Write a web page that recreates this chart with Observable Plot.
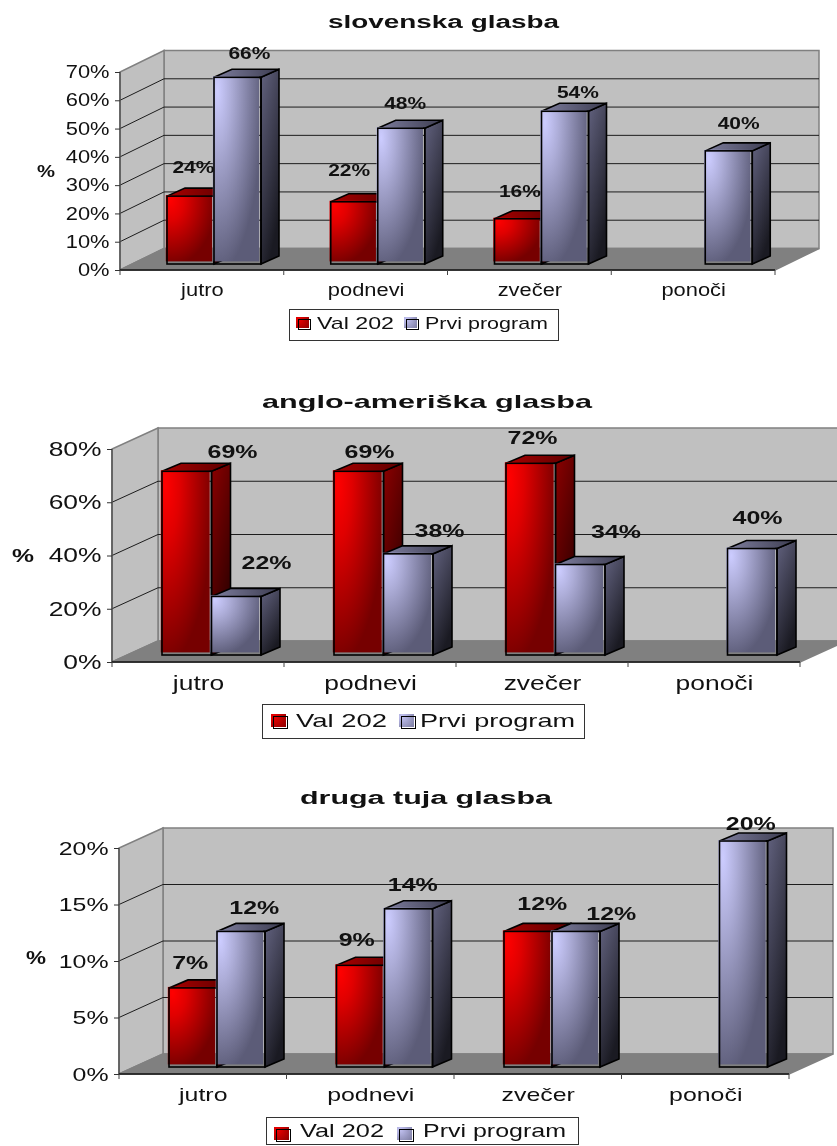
<!DOCTYPE html>
<html><head><meta charset="utf-8">
<script src="https://cdn.jsdelivr.net/npm/d3@7"></script>
<script src="https://cdn.jsdelivr.net/npm/@observablehq/plot@0.6"></script>
<style>
html,body{margin:0;padding:0;background:#fff;width:837px;height:1146px;overflow:hidden;font-family:"Liberation Sans",Arial,sans-serif;color:#111}
body{filter:blur(0.3px)}
.abs{position:absolute;white-space:nowrap;line-height:1}
svg.plot{position:absolute;left:0;overflow:visible}
</style></head><body>
<svg width="0" height="0" style="position:absolute">
<defs>
<radialGradient id="redF" cx="0.1" cy="0.08" r="0.98"><stop offset="0" stop-color="#ff0000"/><stop offset="0.3" stop-color="#e00000"/><stop offset="1" stop-color="#760000"/></radialGradient>
<radialGradient id="bluF" cx="0.1" cy="0.08" r="0.98"><stop offset="0" stop-color="#ccccff"/><stop offset="0.3" stop-color="#adadd8"/><stop offset="1" stop-color="#5c5c78"/></radialGradient>
<linearGradient id="redS" x1="0" y1="0" x2="0.45" y2="1"><stop offset="0" stop-color="#8c0000"/><stop offset="1" stop-color="#2c0000"/></linearGradient>
<linearGradient id="bluS" x1="0" y1="0" x2="0.45" y2="1"><stop offset="0" stop-color="#62627f"/><stop offset="1" stop-color="#1a1a22"/></linearGradient>
<linearGradient id="redT" x1="0" y1="0" x2="1" y2="0"><stop offset="0" stop-color="#a80000"/><stop offset="1" stop-color="#5c0000"/></linearGradient>
<linearGradient id="bluT" x1="0" y1="0" x2="1" y2="0"><stop offset="0" stop-color="#7e7e9e"/><stop offset="1" stop-color="#3c3c50"/></linearGradient>
</defs></svg>
<script>
const categories = ["jutro", "podnevi", "zvečer", "ponoči"];
const seriesNames = ["Val 202", "Prvi program"];

const titles = ["slovenska glasba", "anglo-ameriška glasba", "druga tuja glasba"];

const sloVal = [24, 22, 16, null];
const sloPrvi = [66, 48, 54, 40];
const sloTicks = [0, 10, 20, 30, 40, 50, 60, 70];

const angVal = [69, 69, 72, null];
const angPrvi = [22, 38, 34, 40];
const angTicks = [0, 20, 40, 60, 80];

const druVal = [7, 9, 12, null];
const druPrvi = [12, 14, 12, 20];
const druTicks = [0, 5, 10, 15, 20];

const font = '"Liberation Sans",Arial,sans-serif';

const charts = [
  {title: titles[0], val: sloVal, prvi: sloPrvi, ticks: sloTicks,
   x0: 120, x1: 775, y0: 270, yt: 72, top: 40, bottom: 308,
   depth: [44, -21.5], start: 47, bar: 47, lift: 6, side: [18, -8],
   tickFont: 17.5, tickScale: 1.25, labFont: 16.5, labScale: 1.27, catPad: 13, tickPad: 6,
   nudge: [[-9, -35], [-17, -38], [-10, -34], null], nudgeP: [[47, -30], [39, -31], [48, -25], [45, -34]],
   titleBox: [443.5, 23, 231, 17.5], pct: [46, 171, 18, 17],
   legend: {box: [289, 309, 270, 32], fs: 17, t1: [317, 323, 77], s1: [296, 317], s2: [404, 317], t2: [425, 323, 123], sw: 15}},
  {title: titles[1], val: angVal, prvi: angPrvi, ticks: angTicks,
   x0: 112, x1: 800, y0: 662, yt: 449, top: 415, bottom: 702,
   depth: [46, -21], start: 50, bar: 49.5, lift: 7, side: [19, -8],
   tickFont: 20, tickScale: 1.32, labFont: 18.5, labScale: 1.35, catPad: 13, tickPad: 6,
   nudge: [[34, -27], [-1, -27], [-10, -33], null], nudgeP: [[68, -41], [69, -30], [73.5, -40], [43, -38]],
   titleBox: [427, 401, 330, 19], pct: [23, 555, 22, 19],
   legend: {box: [262, 704, 323, 35], fs: 19, t1: [296, 720, 91], s1: [271, 714], s2: [399, 714], t2: [420, 720, 155], sw: 17}},
  {title: titles[2], val: druVal, prvi: druPrvi, ticks: druTicks,
   x0: 119, x1: 789, y0: 1074, yt: 848, top: 815, bottom: 1115,
   depth: [44, -20], start: 50, bar: 48, lift: 7, side: [19, -8],
   tickFont: 19, tickScale: 1.31, labFont: 18.5, labScale: 1.35, catPad: 13, tickPad: 6,
   nudge: [[-13, -32], [-14, -33], [4, -35], null], nudgeP: [[51, -31], [42, -31], [73, -25], [45, -24]],
   titleBox: [426, 798, 252, 18], pct: [36, 958, 20, 18],
   legend: {box: [266, 1117, 313, 28], fs: 18.5, t1: [300, 1131, 84], s1: [274, 1127], s2: [397, 1127], t2: [423, 1131, 143], sw: 17}}
];

function frame3d(c) {
  return (index, {x, y}) => {
    const [d, e] = c.depth;
    const xa = x(categories[0]), xb = xa + x.bandwidth() * categories.length;
    const ya = y(0), yb = y(c.ticks[c.ticks.length - 1]);
    const g = d3.create("svg:g");
    const poly = (pts, fill, stroke = "#808080") => g.append("polygon")
      .attr("points", pts.map(p => p.join(",")).join(" "))
      .attr("fill", fill).attr("stroke", stroke).attr("stroke-width", 1.5);
    poly([[xa + d, ya + e], [xb + d, ya + e], [xb + d, yb + e], [xa + d, yb + e]], "#c0c0c0");
    poly([[xa, ya], [xa + d, ya + e], [xa + d, yb + e], [xa, yb]], "#c0c0c0");
    poly([[xa, ya], [xb, ya], [xb + d, ya + e], [xa + d, ya + e]], "#808080");
    for (const t of c.ticks.slice(1, -1)) {
      g.append("path").attr("fill", "none").attr("stroke", "#1c1c1c").attr("stroke-width", 1)
        .attr("d", `M${xa},${y(t)}L${xa + d},${y(t) + e}H${xb + d}`);
    }
    g.append("path").attr("stroke", "#555").attr("stroke-width", 1.5).attr("d", `M${xa},${yb}V${ya}`);
    g.append("path").attr("stroke", "#111").attr("stroke-width", 1.5).attr("d", `M${xa},${ya}H${xb}`);
    for (let i = 0; i <= categories.length; i++) {
      const tx = xa + i * x.bandwidth();
      g.append("path").attr("stroke", "#444").attr("stroke-width", 1).attr("d", `M${tx},${ya}v5`);
    }
    return g.node();
  };
}

function box3d(c, kind) {
  return function (index, scales, values, dims, ctx, next) {
    const g = next(index, scales, values, dims, ctx);
    const [sx, sy] = c.side;
    for (const r of [...g.querySelectorAll("rect")]) {
      const X = +r.getAttribute("x"), Y = +r.getAttribute("y"),
            W = +r.getAttribute("width"), H = +r.getAttribute("height");
      const add = (name, attrs) => {
        const el = document.createElementNS("http://www.w3.org/2000/svg", name);
        for (const k in attrs) el.setAttribute(k, attrs[k]);
        g.appendChild(el);
        return el;
      };
      const st = {stroke: "#000", "stroke-width": 1.6, "stroke-linejoin": "miter"};
      add("polygon", {points: `${X + W},${Y} ${X + W + sx},${Y + sy} ${X + W + sx},${Y + H + sy} ${X + W},${Y + H}`, fill: `url(#${kind}S)`, ...st});
      add("polygon", {points: `${X},${Y} ${X + sx},${Y + sy} ${X + W + sx},${Y + sy} ${X + W},${Y}`, fill: `url(#${kind}T)`, ...st});
      add("rect", {x: X - 1.2, y: Y - 1, width: W - 0.6, height: H - 1.6, fill: `url(#${kind}F)`});
      add("rect", {x: X, y: Y, width: W, height: H, fill: "none", ...st});
      r.remove();
    }
    return g;
  };
}

function place(text, cx, cy, fs, weight, w, anchorLeft) {
  const s = document.createElement("div");
  s.className = "abs";
  s.textContent = text;
  s.style.fontSize = fs + "px";
  s.style.fontWeight = weight;
  document.body.appendChild(s);
  const nat = s.getBoundingClientRect().width, h = s.getBoundingClientRect().height;
  const k = w / nat;
  s.style.transformOrigin = "0 50%";
  s.style.transform = `scaleX(${k})`;
  s.style.left = (anchorLeft ? cx : cx - w / 2) + "px";
  s.style.top = (cy - h / 2) + "px";
}

function stretch(svg, sel, k) {
  for (const t of svg.querySelectorAll(sel)) {
    t.setAttribute("textLength", t.getComputedTextLength() * k);
    t.setAttribute("lengthAdjust", "spacingAndGlyphs");
  }
}

function swatch(l, t, sw, a, b) {
  const f = document.createElement("div");
  f.className = "abs";
  f.style.cssText += `left:${l}px;top:${t}px;width:${sw - 2}px;height:${sw - 4}px;background:radial-gradient(circle at 20% 20%,${a},${b})`;
  const o = document.createElement("div");
  o.className = "abs";
  o.style.cssText += `left:${l + 2}px;top:${t + 2}px;width:${sw - 2}px;height:${sw - 4}px;border:1.6px solid #000;box-sizing:border-box`;
  document.body.append(f, o);
}

for (const c of charts) {
  const rows = (vals) => categories.map((cat, i) => ({cat, i, v: vals[i]})).filter(d => d.v != null);
  const height = c.bottom - c.top;
  const band = (c.x1 - c.x0) / categories.length;
  const barOpts = (vals, start, kind) => Plot.barY(rows(vals), {
    x: "cat", y1: () => 0, y2: "v", dy: -c.lift,
    insetLeft: start, insetRight: band - start - c.bar,
    render: box3d(c, kind)
  });
  const labels = (vals, nudges) => rows(vals).map(d => Plot.text([d], {
    x: "cat", y: "v", text: e => e.v + "%", dx: nudges[d.i][0], dy: nudges[d.i][1],
    fontWeight: "bold", fontSize: c.labFont, fill: "#111"
  }));
  const svg = Plot.plot({
    width: 837, height,
    marginLeft: c.x0, marginRight: 837 - c.x1,
    marginTop: c.yt - c.top, marginBottom: c.bottom - c.y0,
    style: {background: "transparent", fontFamily: font, overflow: "visible"},
    x: {domain: categories, padding: 0, round: false, axis: null},
    y: {domain: [0, c.ticks[c.ticks.length - 1]], axis: null},
    marks: [
      frame3d(c),
      Plot.axisY(c.ticks, {tickFormat: d => d + "%", tickSize: 5, tickPadding: c.tickPad, fontSize: c.tickFont, label: null, color: "#111", stroke: "#333"}),
      Plot.axisX(categories, {tickSize: 0, tickPadding: c.catPad, fontSize: c.tickFont, label: null, color: "#111"}),
      barOpts(c.val, c.start, "red"),
      barOpts(c.prvi, c.start + c.bar, "blu"),
      ...labels(c.val, c.nudge),
      ...labels(c.prvi, c.nudgeP)
    ]
  });
  svg.style.top = c.top + "px";
  svg.style.left = "0px";
  svg.style.position = "absolute";
  document.body.appendChild(svg);
  stretch(svg, "g[aria-label='y-axis tick label'] text, g[aria-label='x-axis tick label'] text", c.tickScale);
  for (const g of svg.querySelectorAll("g[aria-label='text']")) stretch(g, "text", c.labScale);

  const [tx, ty, tw, tf] = c.titleBox;
  place(c.title, tx, ty, tf, "bold", tw);
  const [px, py, pw, pf] = c.pct;
  place("%", px, py, pf, "bold", pw);

  const L = c.legend;
  const b = document.createElement("div");
  b.className = "abs";
  b.style.cssText += `left:${L.box[0]}px;top:${L.box[1]}px;width:${L.box[2]}px;height:${L.box[3]}px;border:1px solid #333;border-right-width:1.5px;border-bottom-width:1.5px;box-sizing:border-box;background:#fff`;
  document.body.appendChild(b);
  swatch(L.s1[0], L.s1[1], L.sw, "#f00000", "#8c0000");
  swatch(L.s2[0], L.s2[1], L.sw, "#c4c4f4", "#7c7ca0");
  place(seriesNames[0], L.t1[0], L.t1[1], L.fs, "normal", L.t1[2], true);
  place(seriesNames[1], L.t2[0], L.t2[1], L.fs, "normal", L.t2[2], true);
}
</script>
</body></html>
